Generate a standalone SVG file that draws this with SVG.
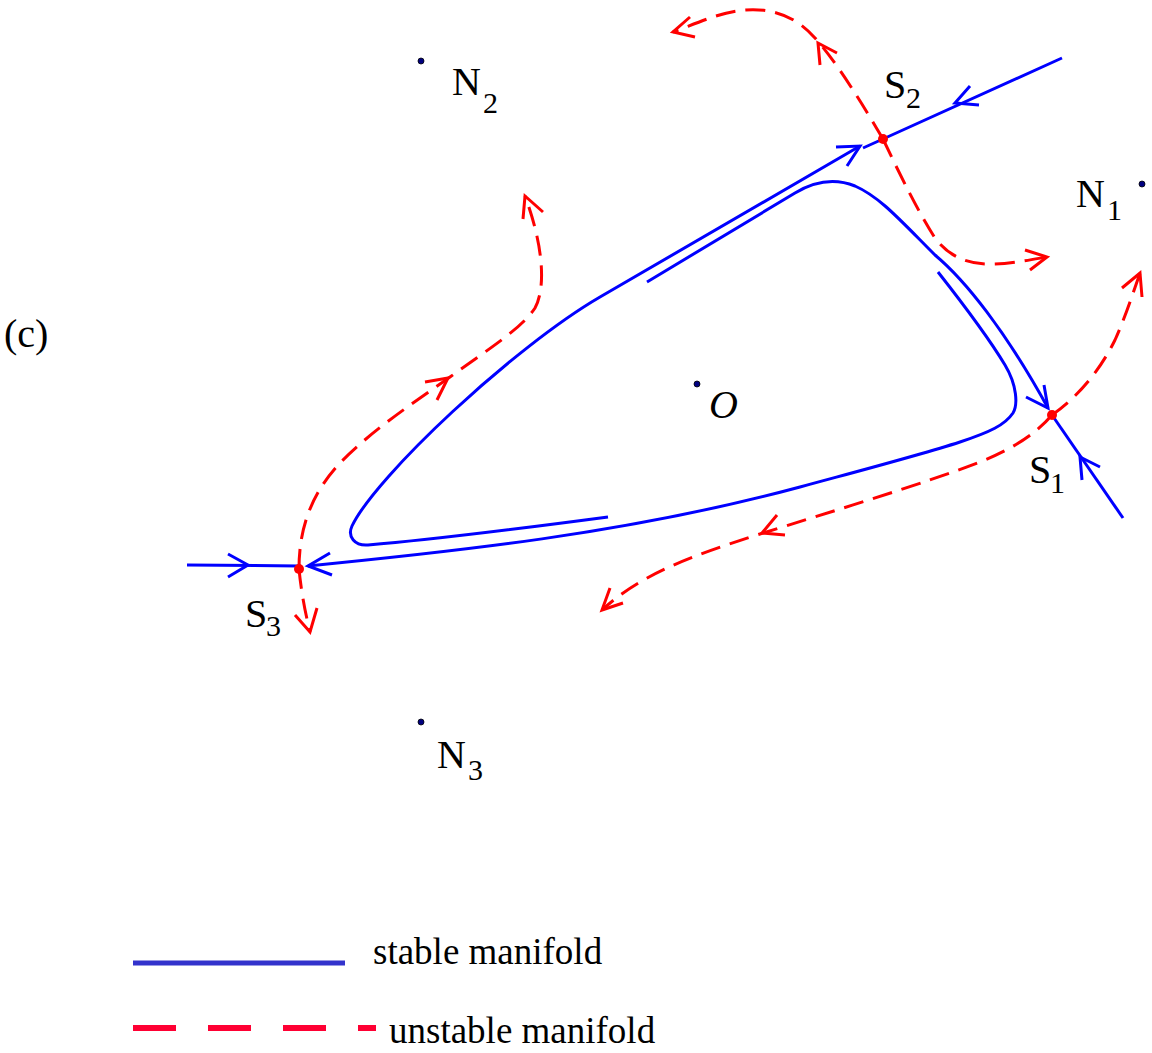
<svg xmlns="http://www.w3.org/2000/svg" width="1152" height="1053" viewBox="0 0 1152 1053">
<style>
.st{fill:none;stroke:#0000ff;stroke-width:3;stroke-linejoin:round}
.un{fill:none;stroke:#ff0000;stroke-width:3;stroke-dasharray:20 10}
.ar{fill:none;stroke:#ff0000;stroke-width:3;stroke-linejoin:miter}
.ab{fill:none;stroke:#0000ff;stroke-width:3;stroke-linejoin:miter}
.eq{fill:#ff0000}
.nd{fill:#000080;stroke:#000;stroke-width:0.8}
.lb{font-family:"Liberation Serif","Times New Roman",serif;font-size:40px;fill:#000}
.sb{font-family:"Liberation Serif","Times New Roman",serif;font-size:30px;fill:#000}
.lg{font-family:"Liberation Serif","Times New Roman",serif;font-size:37px;fill:#000}
</style>
<rect width="1152" height="1053" fill="#fff"/>
<g id="connectors">
  <!-- stable manifolds (blue) -->
  <path class="st" d="M1062,58 L883,139 L863,148"/>
  <path class="st" d="M608,517 C540,526 430,540 368,545 C355,546 347,537 352,526 C376,476 514,347 600,297 L860,146"/>
  <path class="st" d="M647,282 L795,193 C815,181 835,178 855,186 C880,197 900,220 935,255 C965,280 1005,330 1048,408"/>
  <path class="st" d="M938,272 C960,300 990,340 1005,365 C1017,385 1018,405 1013,413 C1005,425 990,432 960,442 C920,455 870,468 800,487 C626,534 450,552 308,566"/>
  <path class="st" d="M187,565 L299,566"/>
  <path class="st" d="M1123,518 L1052,415"/>
  <!-- blue arrowheads -->
  <polyline class="ab" points="228,554 248,565 228,577"/>
  <polyline class="ab" points="330,553 308,566 332,575"/>
  <polyline class="ab" points="970,86 955,103 979,105"/>
  <polyline class="ab" points="836,147 860,146 847,166"/>
  <polyline class="ab" points="1026,397 1048,408 1044,385"/>
  <polyline class="ab" points="1082,480 1080,457 1100,467"/>
  <!-- unstable manifolds (red dashed) -->
  <path class="un" d="M883,139 C860,100 835,60 815,38 C795,15 770,8 745,10 C720,12 695,24 673,32"/>
  <path class="un" d="M883,139 C900,175 920,215 935,238 C950,258 970,265 995,264 C1015,263 1035,259 1047,257"/>
  <path class="un" d="M1052,415 C1080,395 1100,370 1115,340 C1125,318 1133,293 1140,273"/>
  <path class="un" d="M1052,415 C1035,435 1010,450 980,462 C920,485 830,512 760,534 C690,556 640,575 602,610"/>
  <path class="un" d="M299,569 C299,530 310,495 340,463 C370,432 410,405 450,377 C490,348 522,328 535,308 C545,290 545,250 525,196"/>
  <path class="un" d="M299,569 C301,590 305,612 310,632"/>
  <!-- red arrowheads -->
  <polyline class="ar" points="820,65 818,43 837,53"/>
  <polyline class="ar" points="690,17 673,32 695,37"/>
  <polyline class="ar" points="1025,250 1047,257 1030,270"/>
  <polyline class="ar" points="1122,288 1140,273 1142,297"/>
  <polyline class="ar" points="777,515 762,533 785,535"/>
  <polyline class="ar" points="610,588 602,610 623,603"/>
  <polyline class="ar" points="425,382 448,378 437,400"/>
  <polyline class="ar" points="523,219 525,196 543,212"/>
  <polyline class="ar" points="295,615 310,632 317,608"/>
</g>
<g id="N1"><circle class="nd" cx="1142" cy="184" r="3"/><text class="lb" x="1076" y="207">N</text><text class="sb" x="1107" y="220">1</text></g>
<g id="N2"><circle class="nd" cx="421" cy="61" r="3"/><text class="lb" x="452" y="95">N</text><text class="sb" x="483" y="113">2</text></g>
<g id="N3"><circle class="nd" cx="421" cy="722" r="3"/><text class="lb" x="437" y="768">N</text><text class="sb" x="468" y="780">3</text></g>
<g id="O"><circle class="nd" cx="697" cy="384" r="3"/><text class="lb" x="709" y="418" font-style="italic" font-size="36">O</text></g>
<g id="S1"><circle class="eq" cx="1052" cy="415" r="5"/><text class="lb" x="1029" y="483">S</text><text class="sb" x="1050" y="493">1</text></g>
<g id="S2"><circle class="eq" cx="883" cy="139" r="5"/><text class="lb" x="884" y="98">S</text><text class="sb" x="906" y="108">2</text></g>
<g id="S3"><circle class="eq" cx="299" cy="569" r="5"/><text class="lb" x="245" y="627">S</text><text class="sb" x="266" y="636">3</text></g>
<g id="label-c"><text class="lb" x="4" y="347">(c)</text></g>
<g id="legend">
  <line x1="133" y1="963" x2="345" y2="963" stroke="#3333cc" stroke-width="5"/>
  <text class="lg" x="373" y="964">stable manifold</text>
  <line x1="133" y1="1028" x2="376" y2="1028" stroke="#ff0033" stroke-width="6" stroke-dasharray="43 32"/>
  <text class="lg" x="389" y="1043">unstable manifold</text>
</g>
</svg>
